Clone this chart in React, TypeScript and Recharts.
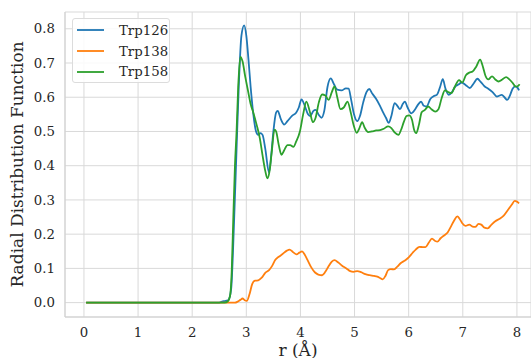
// Radial distribution function of three Trp residues
import { LineChart, Line, XAxis, YAxis, CartesianGrid } from 'recharts'

const FONT = '"DejaVu Serif", serif'
const TEXT = '#262626'
const GRID = '#d9d9d9'

const rTicks = [0, 1, 2, 3, 4, 5, 6, 7, 8]
const gTicks = [0, 0.1, 0.2, 0.3, 0.4, 0.5, 0.6, 0.7, 0.8]

// Trp126
const trp126R = [0.04, 2.5, 2.55, 2.62, 2.67, 2.72, 2.77, 2.82, 2.86, 2.91, 2.96, 3.0, 3.04, 3.08, 3.13, 3.18, 3.22, 3.26, 3.3, 3.35, 3.42, 3.46, 3.5, 3.55, 3.58, 3.64, 3.7, 3.76, 3.84, 3.92, 3.97, 4.02, 4.08, 4.14, 4.18, 4.24, 4.28, 4.34, 4.39, 4.44, 4.5, 4.56, 4.62, 4.68, 4.76, 4.84, 4.89, 4.94, 4.99, 5.05, 5.1, 5.16, 5.22, 5.27, 5.33, 5.4, 5.47, 5.53, 5.58, 5.63, 5.68, 5.74, 5.79, 5.84, 5.89, 5.93, 5.98, 6.05, 6.12, 6.18, 6.23, 6.28, 6.33, 6.4, 6.46, 6.52, 6.58, 6.63, 6.68, 6.74, 6.8, 6.86, 6.92, 6.98, 7.05, 7.13, 7.2, 7.27, 7.33, 7.4, 7.47, 7.55, 7.63, 7.68, 7.72, 7.77, 7.82, 7.87, 7.92, 7.97, 8.01, 8.04]
const trp126G = [0, 0, 0.003, 0.005, 0.008, 0.04, 0.22, 0.45, 0.63, 0.78, 0.81, 0.78, 0.71, 0.63, 0.55, 0.5, 0.49, 0.495, 0.49, 0.45, 0.38, 0.43, 0.5, 0.555, 0.56, 0.535, 0.52, 0.53, 0.545, 0.555, 0.57, 0.594, 0.575, 0.55, 0.545, 0.56, 0.563, 0.548, 0.54, 0.56, 0.63, 0.655, 0.638, 0.622, 0.62, 0.626, 0.625, 0.59, 0.55, 0.53, 0.545, 0.585, 0.615, 0.624, 0.61, 0.595, 0.575, 0.555, 0.54, 0.525, 0.545, 0.583, 0.575, 0.565, 0.58, 0.587, 0.57, 0.553, 0.565, 0.58, 0.587, 0.575, 0.573, 0.595, 0.603, 0.607, 0.63, 0.653, 0.625, 0.607, 0.615, 0.631, 0.637, 0.643, 0.636, 0.627, 0.64, 0.654, 0.645, 0.632, 0.625, 0.615, 0.602, 0.605, 0.607, 0.6, 0.592, 0.605, 0.625, 0.632, 0.628, 0.62]

// Trp138
const trp138R = [0.04, 2.5, 2.79, 2.84, 2.89, 2.93, 2.97, 3.01, 3.06, 3.11, 3.16, 3.22, 3.28, 3.35, 3.42, 3.48, 3.53, 3.6, 3.67, 3.75, 3.8, 3.86, 3.93, 3.98, 4.03, 4.08, 4.13, 4.2, 4.27, 4.33, 4.4, 4.46, 4.52, 4.58, 4.63, 4.7, 4.77, 4.85, 4.92, 4.98, 5.05, 5.12, 5.2, 5.28, 5.36, 5.42, 5.47, 5.52, 5.57, 5.62, 5.67, 5.73, 5.79, 5.85, 5.93, 6.0, 6.07, 6.13, 6.2, 6.26, 6.31, 6.37, 6.43, 6.49, 6.53, 6.59, 6.66, 6.72, 6.78, 6.84, 6.9, 6.94, 6.99, 7.05, 7.12, 7.18, 7.23, 7.29, 7.34, 7.4, 7.46, 7.53, 7.6, 7.68, 7.76, 7.83, 7.9, 7.96, 8.0, 8.04]
const trp138G = [0, 0, 0, 0.003, 0.008, 0.012, 0.007, 0.005, 0.025, 0.055, 0.064, 0.065, 0.072, 0.087, 0.095, 0.108, 0.124, 0.134, 0.142, 0.152, 0.155, 0.148, 0.141, 0.146, 0.15, 0.14, 0.125, 0.103, 0.088, 0.082, 0.08, 0.09, 0.106, 0.12, 0.124, 0.117, 0.108, 0.1, 0.092, 0.09, 0.092, 0.089, 0.083, 0.08, 0.078, 0.076, 0.072, 0.068, 0.078, 0.095, 0.098, 0.097, 0.105, 0.115, 0.123, 0.132, 0.145, 0.155, 0.163, 0.162, 0.162, 0.175, 0.187, 0.18, 0.178, 0.188, 0.197, 0.205, 0.222, 0.24, 0.252, 0.245, 0.232, 0.224, 0.228, 0.222, 0.221, 0.23, 0.228, 0.219, 0.217, 0.228, 0.238, 0.245, 0.255, 0.27, 0.285, 0.297, 0.295, 0.29]

// Trp158
const trp158R = [0.04, 2.6, 2.66, 2.7, 2.73, 2.76, 2.79, 2.82, 2.85, 2.89, 2.93, 2.98, 3.03, 3.08, 3.13, 3.19, 3.25, 3.3, 3.35, 3.39, 3.43, 3.47, 3.52, 3.55, 3.6, 3.65, 3.7, 3.76, 3.81, 3.87, 3.92, 3.99, 4.05, 4.11, 4.17, 4.23, 4.28, 4.34, 4.4, 4.46, 4.52, 4.58, 4.63, 4.68, 4.74, 4.8, 4.87, 4.93, 4.98, 5.04, 5.09, 5.14, 5.19, 5.25, 5.32, 5.4, 5.47, 5.54, 5.62, 5.68, 5.74, 5.81, 5.86, 5.91, 5.96, 6.01, 6.06, 6.1, 6.14, 6.19, 6.24, 6.3, 6.36, 6.42, 6.49, 6.55, 6.61, 6.67, 6.73, 6.79, 6.85, 6.93, 6.99, 7.06, 7.12, 7.18, 7.25, 7.32, 7.37, 7.42, 7.47, 7.54, 7.6, 7.66, 7.73, 7.8, 7.86, 7.92, 7.98, 8.02, 8.05]
const trp158G = [0, 0, 0.004, 0.02, 0.09, 0.25, 0.4, 0.5, 0.63, 0.718, 0.705, 0.66, 0.62, 0.58, 0.555, 0.52, 0.48, 0.43, 0.385, 0.363, 0.385, 0.44, 0.505, 0.5, 0.46, 0.432, 0.445, 0.46, 0.46, 0.455, 0.47, 0.5, 0.55, 0.587, 0.56, 0.527, 0.54, 0.585, 0.608, 0.605, 0.592, 0.615, 0.632, 0.6, 0.565, 0.57, 0.587, 0.555, 0.52, 0.496, 0.51, 0.527, 0.51, 0.498, 0.5, 0.503, 0.504, 0.508, 0.515, 0.51, 0.497, 0.49, 0.505, 0.528, 0.545, 0.547, 0.535, 0.505, 0.495, 0.52, 0.556, 0.563, 0.573, 0.565, 0.558, 0.565, 0.598, 0.62, 0.615, 0.612, 0.63, 0.65, 0.643, 0.665, 0.672, 0.675, 0.69, 0.71, 0.69, 0.662, 0.652, 0.661, 0.652, 0.646, 0.652, 0.659, 0.652, 0.642, 0.631, 0.633, 0.638]

const series = [
  { name: 'Trp126', color: '#1f77b4', data: trp126R.map((r, i) => ({ r, g: trp126G[i] })) },
  { name: 'Trp138', color: '#ff7f0e', data: trp138R.map((r, i) => ({ r, g: trp138G[i] })) },
  { name: 'Trp158', color: '#2ca02c', data: trp158R.map((r, i) => ({ r, g: trp158G[i] })) },
]

// legend drawn as an overlay so it takes no room from the plot
function LegendBox() {
  return (
    <div style={{
      position: 'absolute',
      left: 72,
      top: 18,
      width: 98,
      height: 65,
      boxSizing: 'border-box',
      border: '1px solid #dcdcdc',
      borderRadius: 3,
      background: 'rgba(255,255,255,0.85)',
      fontFamily: FONT,
      fontSize: 13.3,
      color: TEXT,
      paddingTop: 1,
    }}>
      {series.map((s) => (
        <div key={s.name} style={{ display: 'flex', alignItems: 'center', height: 20.7 }}>
          <svg width={42} height={4} style={{ marginLeft: 4 }}>
            <line x1={0} y1={2} x2={27} y2={2} stroke={s.color} strokeWidth={1.8} />
          </svg>
          <span>{s.name}</span>
        </div>
      ))}
    </div>
  )
}

export default function App() {
  return (
    <div style={{ position: 'absolute', left: 0, top: 0, width: 531, height: 358, overflow: 'hidden', background: '#fff' }}>
      <LineChart width={531} height={358} margin={{ top: 12, right: 0, left: 0, bottom: 0 }}>
        <CartesianGrid stroke={GRID} strokeWidth={1} />
        <XAxis
          xAxisId="top"
          orientation="top"
          type="number"
          dataKey="r"
          domain={[-0.35, 8.26]}
          ticks={rTicks}
          tick={false}
          tickLine={false}
          height={0}
          stroke="#d0d0d0"
          allowDataOverflow
        />
        <XAxis
          type="number"
          dataKey="r"
          domain={[-0.35, 8.26]}
          ticks={rTicks}
          allowDataOverflow
          tickLine={false}
          tickSize={0}
          tickMargin={11}
          height={41}
          stroke="#d0d0d0"
          tick={{ fill: TEXT, fontSize: 13.3, fontFamily: FONT }}
          label={{ value: 'r (Å)', position: 'insideBottom', offset: 2, fill: TEXT, fontSize: 17, fontFamily: FONT }}
        />
        <YAxis
          type="number"
          domain={[-0.042, 0.849]}
          ticks={gTicks}
          allowDataOverflow
          width={65}
          tickLine={false}
          tickSize={0}
          tickMargin={10}
          stroke="#d0d0d0"
          tickFormatter={(v: number) => v.toFixed(1)}
          tick={{ fill: TEXT, fontSize: 13.3, fontFamily: FONT }}
          label={{ value: 'Radial Distribution Function', angle: -90, position: 'insideLeft', offset: 17, fill: TEXT, fontSize: 17, fontFamily: FONT, style: { textAnchor: 'middle' } }}
        />
        {series.map((s) => (
          <Line
            key={s.name}
            data={s.data}
            dataKey="g"
            name={s.name}
            type="monotone"
            stroke={s.color}
            strokeWidth={1.8}
            dot={false}
            activeDot={false}
            isAnimationActive={false}
          />
        ))}
      </LineChart>
      <LegendBox />
    </div>
  )
}
